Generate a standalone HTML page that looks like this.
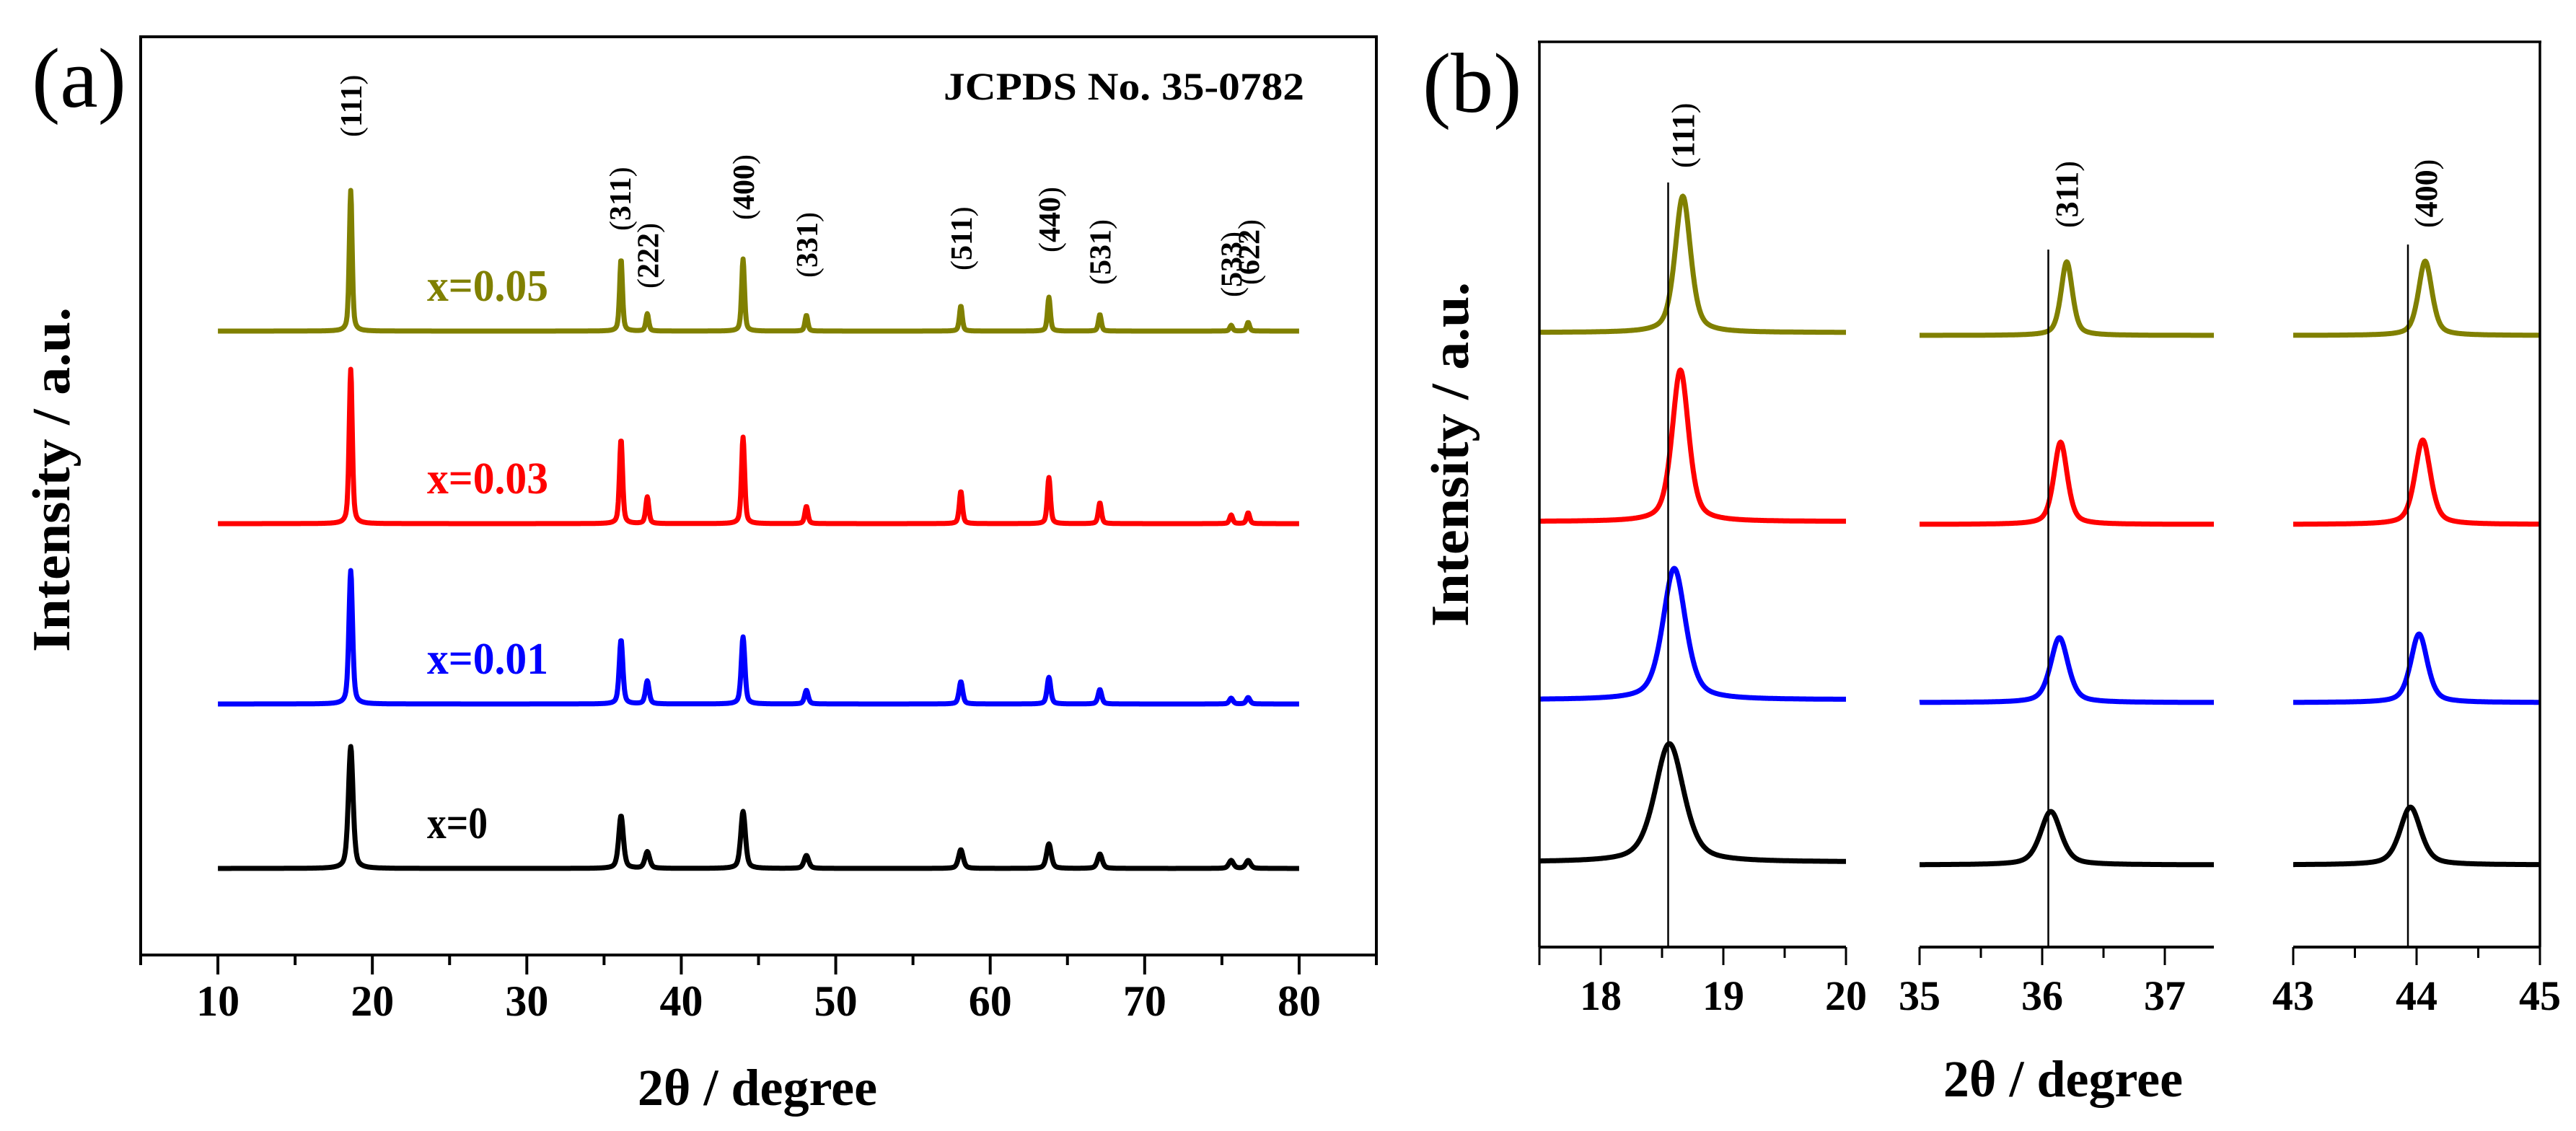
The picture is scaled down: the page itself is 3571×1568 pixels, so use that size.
<!DOCTYPE html>
<html><head><meta charset="utf-8"><style>
html,body{margin:0;padding:0;background:#fff}
svg{display:block}
text{font-family:"Liberation Serif",serif}
</style></head><body>
<svg id="chart" width="3571" height="1568" viewBox="0 0 3571 1568" xmlns="http://www.w3.org/2000/svg">
<g id="pa"></g>
<g id="pb"></g>
</svg>
<script>
// ---------- data ----------
const seriesNames = ["x=0.05","x=0.03","x=0.01","x=0"];
const seriesColors = ["#808000","#ff0000","#0000ff","#000000"];
// panel (a): peak positions (2θ) and hkl labels
const peakPosA = [18.6,36.1,37.8,44.0,48.1,58.1,63.8,67.1,75.6,76.7];
const peakHkl = ["111","311","222","400","331","511","440","531","533","622"];
const heightsA_005 = [195,100,24,100,22,35,47,23,8,12];
const heightsA_003 = [214,117,37,120,24,45,64,29,12,15];
const heightsA_001 = [185,89,32,93,19,31,37,20,8,9];
const heightsA_0   = [169,73,23,79,18,26,34,20,11,11];
const offsetsA = [865,598,348,120];
const widthsA = [0.22,0.24,0.28,0.36];
// panel (b)
const peakPosB_005 = [18.67,36.2,44.07];
const peakPosB_003 = [18.65,36.15,44.05];
const peakPosB_001 = [18.6,36.14,44.02];
const peakPosB_0   = [18.56,36.07,43.95];
const heightsB_005 = [189,102,103];
const heightsB_003 = [210,114,117];
const heightsB_001 = [182,90,95];
const heightsB_0   = [164,74,80];
const widthsB_005 = [0.15,0.11,0.13];
const widthsB_003 = [0.16,0.13,0.15];
const widthsB_001 = [0.22,0.17,0.16];
const widthsB_0   = [0.28,0.2,0.2];
const offsetsB = [852,590,343,118];
const refLinesB = [18.55,36.05,43.93];
const refHklB = ["111","311","400"];
const ticksA = [10,20,30,40,50,60,70,80];
const rangesB = [[17.5,20],[35,37.4],[43,45]];
const ticksB = [[18,19,20],[35,36,37],[43,44,45]];

// ---------- helpers ----------
const NS="http://www.w3.org/2000/svg";
function mk(tag,attrs,parent,txt){const e=document.createElementNS(NS,tag);for(const k in attrs)e.setAttribute(k,attrs[k]);if(txt!==undefined)e.textContent=txt;parent.appendChild(e);return e;}
function pv(x,c,w){const g=w/2;const L=g*g/((x-c)*(x-c)+g*g);const G=Math.exp(-Math.LN2*(x-c)*(x-c)/(g*g));return 0.5*L+0.5*G;}

// ---------- panel A ----------
const pa=document.getElementById('pa');
const AX={l:195,r:1908,t:51,b:1324,x0:5,x1:85,y0:0,y1:1273};
const xA=v=>AX.l+(v-AX.x0)/(AX.x1-AX.x0)*(AX.r-AX.l);
const yA=v=>AX.b-(v-AX.y0)/(AX.y1-AX.y0)*(AX.b-AX.t);
const heightsA=[heightsA_005,heightsA_003,heightsA_001,heightsA_0];
heightsA.forEach((hs,si)=>{
  let d="";
  for(let x=10;x<=80.0001;x+=0.04){
    let v=offsetsA[si];
    peakPosA.forEach((c,i)=>{v+=hs[i]*pv(x,c,widthsA[si]);});
    d+=(d?"L":"M")+xA(x).toFixed(1)+" "+yA(v).toFixed(1);
  }
  const p=mk('path',{d:d,fill:"none",stroke:seriesColors[si],"stroke-width":7,"stroke-linejoin":"round"},pa);
  
  
  const t=mk('text',{x:592,y:yA(offsetsA[si])-42,fill:seriesColors[si],"font-size":62,"font-weight":"bold",textLength:seriesNames[si].length*28,lengthAdjust:"spacingAndGlyphs"},pa,seriesNames[si]);
  
  
});
const labelBottomA=[190,320,400,305,385,375,350,395,412,395];
peakPosA.forEach((c,i)=>{
  const x=xA(c)+ (i===1?-2:0);
  const t=mk('text',{x:0,y:0,transform:`translate(${x+15},${labelBottomA[i]}) rotate(-90)`,"font-size":42,"font-family":"Liberation Sans, sans-serif","font-weight":"bold",fill:"#000"},pa);
  mk('tspan',{"font-weight":"normal"},t,"(");
  mk('tspan',{},t,peakHkl[i]);
  mk('tspan',{"font-weight":"normal"},t,")");
  
  
});
const fa=mk('rect',{x:AX.l,y:AX.t,width:AX.r-AX.l,height:AX.b-AX.t,fill:"none",stroke:"#000","stroke-width":4},pa);

for(let v=5;v<=85;v+=5){
  const maj=ticksA.includes(v);
  const l=mk('line',{x1:xA(v),x2:xA(v),y1:AX.b,y2:AX.b+(maj?27:14),stroke:"#000","stroke-width":4},pa);
  
}
ticksA.forEach(v=>{
  const t=mk('text',{x:xA(v),y:1408,"text-anchor":"middle","font-size":60,"font-weight":"bold"},pa,String(v));
  
});
mk('text',{x:1050,y:1532,"text-anchor":"middle","font-size":72,"font-weight":"bold",},pa,"2θ / degree");
mk('text',{x:0,y:0,transform:"translate(96,665) rotate(-90)","text-anchor":"middle","font-size":74,"font-weight":"bold",textLength:478,lengthAdjust:"spacingAndGlyphs",},pa,"Intensity / a.u.");
mk('text',{x:44,y:148,"font-size":118,},pa,"(a)");
mk('text',{x:1308,y:138,"font-size":54,"font-weight":"bold",textLength:500,lengthAdjust:"spacingAndGlyphs",},pa,"JCPDS No. 35-0782");

// ---------- panel B ----------
const pb=document.getElementById('pb');
const BY={t:58,b:1313,y0:0,y1:1255};
const subPx=[[2134,2559],[2661,3069],[3179,3521]];
const xB=(s,v)=>subPx[s][0]+(v-rangesB[s][0])/(rangesB[s][1]-rangesB[s][0])*(subPx[s][1]-subPx[s][0]);
const yB=v=>BY.b-(v-BY.y0)/(BY.y1-BY.y0)*(BY.b-BY.t);
const posB=[peakPosB_005,peakPosB_003,peakPosB_001,peakPosB_0];
const hB=[heightsB_005,heightsB_003,heightsB_001,heightsB_0];
const wB=[widthsB_005,widthsB_003,widthsB_001,widthsB_0];
for(let si=0;si<4;si++){
  for(let s=0;s<3;s++){
    let d="";
    const [a,b]=rangesB[s];
    for(let x=a;x<=b+0.0001;x+=0.005){
      const v=offsetsB[si]+(s>0?-4:0)+hB[si][s]*pv(x,posB[si][s],wB[si][s]);
      d+=(d?"L":"M")+xB(s,x).toFixed(1)+" "+yB(v).toFixed(1);
    }
    const p=mk('path',{d:d,fill:"none",stroke:seriesColors[si],"stroke-width":7,"stroke-linejoin":"round"},pb);
    
    
  }
}
const refTop=[253,346,339];
const refLabelBottom=[233,316,316];
refLinesB.forEach((v,s)=>{
  const x=xB(s,v);
  const l=mk('line',{x1:x,x2:x,y1:refTop[s],y2:BY.b,stroke:"#000","stroke-width":2.5},pb);
  
  const lx=[2348,2880,3378][s];
  const t=mk('text',{x:0,y:0,transform:`translate(${lx},${refLabelBottom[s]}) rotate(-90)`,"font-size":44,"font-family":"Liberation Sans, sans-serif","font-weight":"bold"},pb);
  mk('tspan',{"font-weight":"normal"},t,"(");
  mk('tspan',{},t,refHklB[s]);
  mk('tspan',{"font-weight":"normal"},t,")");
  
});
mk('line',{x1:2134,x2:2134,y1:BY.t,y2:BY.b,stroke:"#000","stroke-width":3.5,},pb);
mk('line',{x1:2132,x2:3523,y1:BY.t,y2:BY.t,stroke:"#000","stroke-width":3.5,},pb);
mk('line',{x1:3521,x2:3521,y1:BY.t,y2:BY.b,stroke:"#000","stroke-width":3.5,},pb);
for(let s=0;s<3;s++){
  const l=mk('line',{x1:subPx[s][0],x2:subPx[s][1],y1:BY.b,y2:BY.b,stroke:"#000","stroke-width":4},pb);
  
  const [a,b]=rangesB[s];
  for(let v=Math.ceil(a*2)/2;v<=b+0.001;v+=0.5){
    const maj=Math.abs(v-Math.round(v))<0.01;
    const tk=mk('line',{x1:xB(s,v),x2:xB(s,v),y1:BY.b,y2:BY.b+(maj?25:15),stroke:"#000","stroke-width":3},pb);
    
  }
  const e=mk('line',{x1:subPx[s][0],x2:subPx[s][0],y1:BY.b,y2:BY.b+25,stroke:"#000","stroke-width":3},pb);
  
  ticksB[s].forEach(v=>{
    const t=mk('text',{x:xB(s,v),y:1400,"text-anchor":"middle","font-size":58,"font-weight":"bold"},pb,String(v));
    
  });
}
mk('text',{x:2860,y:1520,"text-anchor":"middle","font-size":72,"font-weight":"bold",},pb,"2θ / degree");
mk('text',{x:0,y:0,transform:"translate(2035,630) rotate(-90)","text-anchor":"middle","font-size":74,"font-weight":"bold",textLength:478,lengthAdjust:"spacingAndGlyphs",},pb,"Intensity / a.u.");
mk('text',{x:1972,y:155,"font-size":118,},pb,"(b)");
</script>
</body></html>
